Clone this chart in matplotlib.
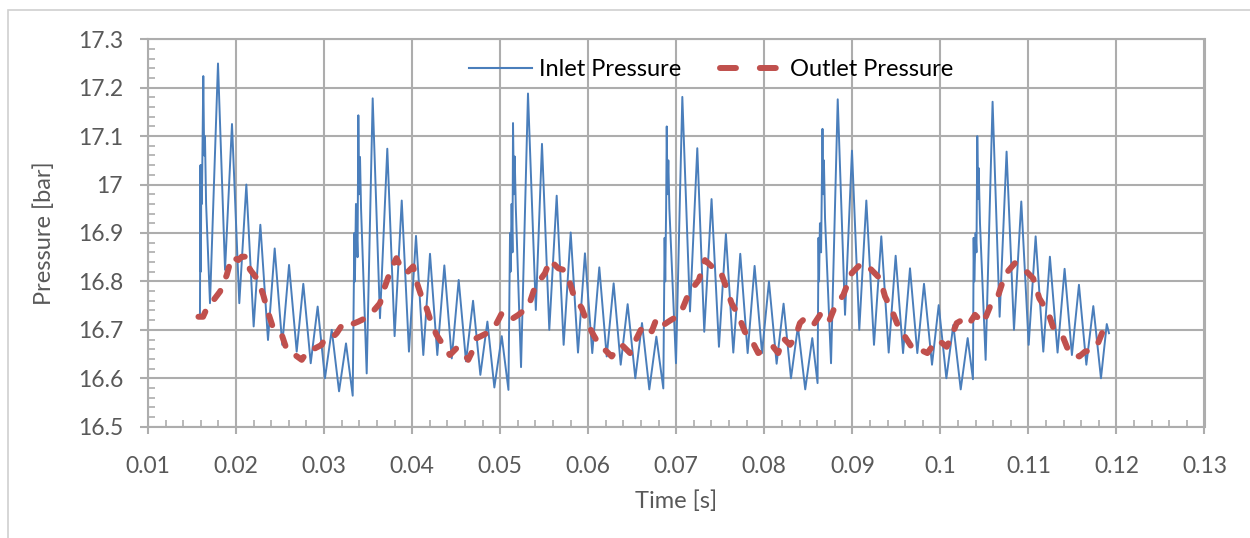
import matplotlib
matplotlib.use('Agg')
import matplotlib.pyplot as plt
from matplotlib.lines import Line2D
from matplotlib.patches import Rectangle
from matplotlib.ticker import MultipleLocator, FuncFormatter

plt.rcParams['font.family'] = ['Lato', 'DejaVu Sans']

# inlet pressure (peaks / troughs / spike bursts)
inlet_time = [
    0.01583, 0.01590, 0.01596, 0.01600, 0.01606, 0.01612, 0.01628, 0.01638, 0.01647, 0.01660,
    0.01704, 0.01795, 0.01875, 0.01954, 0.02037, 0.02117, 0.02200, 0.02276, 0.02363, 0.02439,
    0.02525, 0.02602, 0.02689, 0.02764, 0.02848, 0.02927, 0.03010, 0.03087, 0.03170, 0.03249,
    0.03325,
    0.03344, 0.03350, 0.03362, 0.03380, 0.03389, 0.03398, 0.03408, 0.03420, 0.03484, 0.03552,
    0.03635, 0.03718, 0.03801, 0.03882, 0.03964, 0.04044, 0.04127, 0.04203, 0.04286, 0.04366,
    0.04450, 0.04529, 0.04612, 0.04692, 0.04775, 0.04855, 0.04934, 0.05018, 0.05094,
    0.05112, 0.05118, 0.05130, 0.05140, 0.05146, 0.05156, 0.05165, 0.05178, 0.05237, 0.05316,
    0.05405, 0.05475, 0.05558, 0.05642, 0.05721, 0.05801, 0.05884, 0.05963, 0.06046, 0.06126,
    0.06210, 0.06289, 0.06369, 0.06448, 0.06535, 0.06611, 0.06694, 0.06774, 0.06853,
    0.06868, 0.06875, 0.06885, 0.06892, 0.06900, 0.06910, 0.06922, 0.06997, 0.07069, 0.07156,
    0.07239, 0.07318, 0.07401, 0.07485, 0.07564, 0.07648, 0.07727, 0.07811, 0.07890, 0.07974,
    0.08053, 0.08140, 0.08219, 0.08303, 0.08382, 0.08465, 0.08545, 0.08605,
    0.08616, 0.08622, 0.08632, 0.08645, 0.08661, 0.08670, 0.08677, 0.08690, 0.08758, 0.08834,
    0.08917, 0.08996, 0.09079, 0.09159, 0.09246, 0.09329, 0.09413, 0.09492, 0.09576, 0.09655,
    0.09738, 0.09814, 0.09905, 0.09981, 0.10068, 0.10147, 0.10231, 0.10310, 0.10370,
    0.10378, 0.10385, 0.10400, 0.10410, 0.10419, 0.10431, 0.10435, 0.10450, 0.10514, 0.10593,
    0.10673, 0.10752, 0.10836, 0.10919, 0.11003, 0.11082, 0.11169, 0.11244, 0.11331, 0.11411,
    0.11494, 0.11574, 0.11658, 0.11737, 0.11824, 0.11890, 0.11915,
]
inlet_pressure = [
    16.727, 16.727, 17.040, 16.820, 17.040, 16.960, 17.224, 17.060, 17.100, 16.960,
    16.755, 17.250, 16.824, 17.125, 16.755, 17.000, 16.707, 16.917, 16.679, 16.868,
    16.669, 16.834, 16.655, 16.795, 16.631, 16.748, 16.600, 16.700, 16.573, 16.672,
    16.564,
    16.900, 16.800, 16.960, 16.850, 17.143, 16.980, 17.057, 16.950, 16.610, 17.178,
    16.724, 17.074, 16.687, 16.967, 16.655, 16.894, 16.648, 16.857, 16.648, 16.833,
    16.641, 16.803, 16.635, 16.760, 16.607, 16.717, 16.581, 16.687, 16.576,
    16.900, 16.820, 16.960, 16.860, 17.127, 16.980, 17.058, 16.950, 16.623, 17.188,
    16.741, 17.084, 16.700, 16.977, 16.669, 16.901, 16.653, 16.858, 16.652, 16.829,
    16.645, 16.796, 16.628, 16.753, 16.600, 16.714, 16.577, 16.686, 16.579,
    16.890, 16.800, 16.950, 17.120, 16.980, 17.050, 16.950, 16.631, 17.181, 16.738,
    17.075, 16.696, 16.970, 16.665, 16.898, 16.653, 16.857, 16.652, 16.832, 16.652,
    16.800, 16.630, 16.754, 16.600, 16.707, 16.577, 16.683, 16.590,
    16.890, 16.800, 16.920, 16.860, 17.115, 16.980, 17.050, 16.930, 16.631, 17.176,
    16.731, 17.070, 16.700, 16.967, 16.669, 16.893, 16.653, 16.853, 16.652, 16.827,
    16.652, 16.795, 16.628, 16.751, 16.600, 16.710, 16.577, 16.683, 16.598,
    16.890, 16.800, 16.900, 16.860, 17.100, 16.970, 17.034, 16.920, 16.638, 17.171,
    16.727, 17.068, 16.700, 16.965, 16.669, 16.893, 16.655, 16.851, 16.653, 16.826,
    16.648, 16.793, 16.628, 16.749, 16.600, 16.712, 16.693,
]

# outlet pressure
outlet_time = [
    0.01573, 0.01625, 0.01660, 0.01818, 0.01894, 0.01951, 0.02026, 0.02064, 0.02139, 0.02156,
    0.02249, 0.02309, 0.02367, 0.02423, 0.02519, 0.02576, 0.02670, 0.02746, 0.02822, 0.02878,
    0.02973, 0.03010, 0.03105, 0.03143, 0.03218, 0.03294, 0.03389, 0.03503, 0.03635, 0.03690,
    0.03765, 0.03822, 0.03879, 0.03936, 0.04012, 0.04049, 0.04106, 0.04163, 0.04219, 0.04276,
    0.04352, 0.04428, 0.04504, 0.04561, 0.04637, 0.04674, 0.04731, 0.04771, 0.04847, 0.04885,
    0.04961, 0.05018, 0.05112, 0.05207, 0.05321, 0.05396, 0.05509, 0.05566, 0.05661, 0.05717,
    0.05793, 0.05839, 0.05926, 0.05983, 0.06058, 0.06115, 0.06210, 0.06267, 0.06342, 0.06381,
    0.06475, 0.06513, 0.06589, 0.06627, 0.06722, 0.06778, 0.06854, 0.06937, 0.07043, 0.07143,
    0.07257, 0.07326, 0.07402, 0.07496, 0.07572, 0.07628, 0.07704, 0.07779, 0.07855, 0.07931,
    0.08026, 0.08101, 0.08158, 0.08215, 0.08291, 0.08349, 0.08405, 0.08462, 0.08557, 0.08633,
    0.08727, 0.08803, 0.08898, 0.08993, 0.09106, 0.09200, 0.09314, 0.09371, 0.09447, 0.09522,
    0.09598, 0.09693, 0.09769, 0.09852, 0.09920, 0.09977, 0.10072, 0.10118, 0.10186, 0.10243,
    0.10318, 0.10393, 0.10488, 0.10564, 0.10659, 0.10734, 0.10848, 0.10942, 0.11055, 0.11124,
    0.11226, 0.11283, 0.11397, 0.11465, 0.11578, 0.11642, 0.11737, 0.11783, 0.11851, 0.11919,
]
outlet_pressure = [
    16.727, 16.727, 16.741, 16.779, 16.813, 16.851, 16.844, 16.851, 16.851, 16.825,
    16.803, 16.772, 16.734, 16.703, 16.690, 16.659, 16.648, 16.638, 16.659, 16.660,
    16.669, 16.683, 16.686, 16.693, 16.714, 16.710, 16.717, 16.727, 16.755, 16.789,
    16.827, 16.848, 16.827, 16.817, 16.831, 16.800, 16.769, 16.745, 16.714, 16.690,
    16.669, 16.648, 16.662, 16.659, 16.638, 16.652, 16.683, 16.686, 16.693, 16.703,
    16.714, 16.734, 16.720, 16.731, 16.748, 16.789, 16.817, 16.844, 16.827, 16.824,
    16.796, 16.769, 16.745, 16.717, 16.690, 16.672, 16.655, 16.645, 16.665, 16.669,
    16.652, 16.669, 16.697, 16.710, 16.697, 16.724, 16.710, 16.720, 16.731, 16.776,
    16.803, 16.844, 16.831, 16.824, 16.786, 16.755, 16.731, 16.696, 16.679, 16.652,
    16.659, 16.665, 16.652, 16.683, 16.669, 16.683, 16.714, 16.724, 16.710, 16.731,
    16.714, 16.748, 16.772, 16.817, 16.838, 16.827, 16.806, 16.769, 16.741, 16.707,
    16.686, 16.659, 16.659, 16.652, 16.669, 16.679, 16.665, 16.683, 16.714, 16.720,
    16.710, 16.731, 16.714, 16.748, 16.772, 16.814, 16.838, 16.827, 16.806, 16.765,
    16.735, 16.704, 16.683, 16.652, 16.645, 16.655, 16.659, 16.669, 16.700, 16.712,
]

blue = '#4A7EBB'
red = '#C0504D'
grid_c = '#ADADAD'
text_c = '#595959'

fig = plt.figure(figsize=(12.5, 5.38), dpi=100)
ax = fig.add_axes([0.1184, 0.2069, 0.8452, 0.7201])

# light chart-area border (top and left visible)
fig.patches.append(Rectangle((8 / 1250, -0.5), 2.0, 1.5 - 10 / 538, transform=fig.transFigure,
                             fill=False, edgecolor='#D0D0D0', linewidth=1.2))

ax.plot(inlet_time, inlet_pressure, color=blue, lw=1.4, zorder=3)
ax.plot(outlet_time, outlet_pressure, color=red, lw=4.3, dashes=(1.7, 2.6),
        dash_capstyle='round', solid_capstyle='round', zorder=4)

ax.set_xlim(0.01, 0.13)
ax.set_ylim(16.5, 17.3)
ax.xaxis.set_major_locator(MultipleLocator(0.01))
ax.xaxis.set_minor_locator(MultipleLocator(0.002))
ax.yaxis.set_major_locator(MultipleLocator(0.1))
ax.yaxis.set_minor_locator(MultipleLocator(0.02))
ax.xaxis.set_major_formatter(FuncFormatter(lambda v, p: f'{v:.2f}'.rstrip('0') if round(v * 100) % 10 == 0 else f'{v:.2f}'))
ax.yaxis.set_major_formatter(FuncFormatter(lambda v, p: f'{v:.1f}'.rstrip('0').rstrip('.')))

ax.grid(True, which='major', color=grid_c, lw=1.5)
ax.set_axisbelow(True)
for s in ax.spines.values():
    s.set_color(grid_c)
    s.set_linewidth(1.5)

ax.tick_params(axis='x', which='major', direction='out', length=5, width=1.5, color=grid_c,
               pad=16, labelsize=16.5, labelcolor=text_c)
ax.tick_params(axis='y', which='major', direction='out', length=6, width=1.5, color=grid_c,
               pad=12, labelsize=16.5, labelcolor=text_c)
ax.tick_params(which='minor', direction='in', length=5, width=1.2, color=grid_c)
ax.tick_params(axis='x', which='minor', top=False)
ax.tick_params(axis='y', which='minor', right=False)

ax.set_xlabel('Time [s]', fontsize=17, color=text_c, labelpad=10)
ax.set_ylabel('Pressure [bar]', fontsize=17, color=text_c, labelpad=16)

h_in = Line2D([], [], color=blue, lw=1.5)
h_out = Line2D([], [], color=red, lw=4.3, dashes=(2.67, 4.0), dash_capstyle='round')
ax.legend([h_in, h_out], ['Inlet Pressure', 'Outlet Pressure'], loc='center',
          bbox_to_anchor=(0.533, 0.922), ncol=2, frameon=False, fontsize=17,
          handlelength=2.7, handletextpad=0.3, columnspacing=1.6, borderpad=0)

fig.savefig('out.png', dpi=100)
